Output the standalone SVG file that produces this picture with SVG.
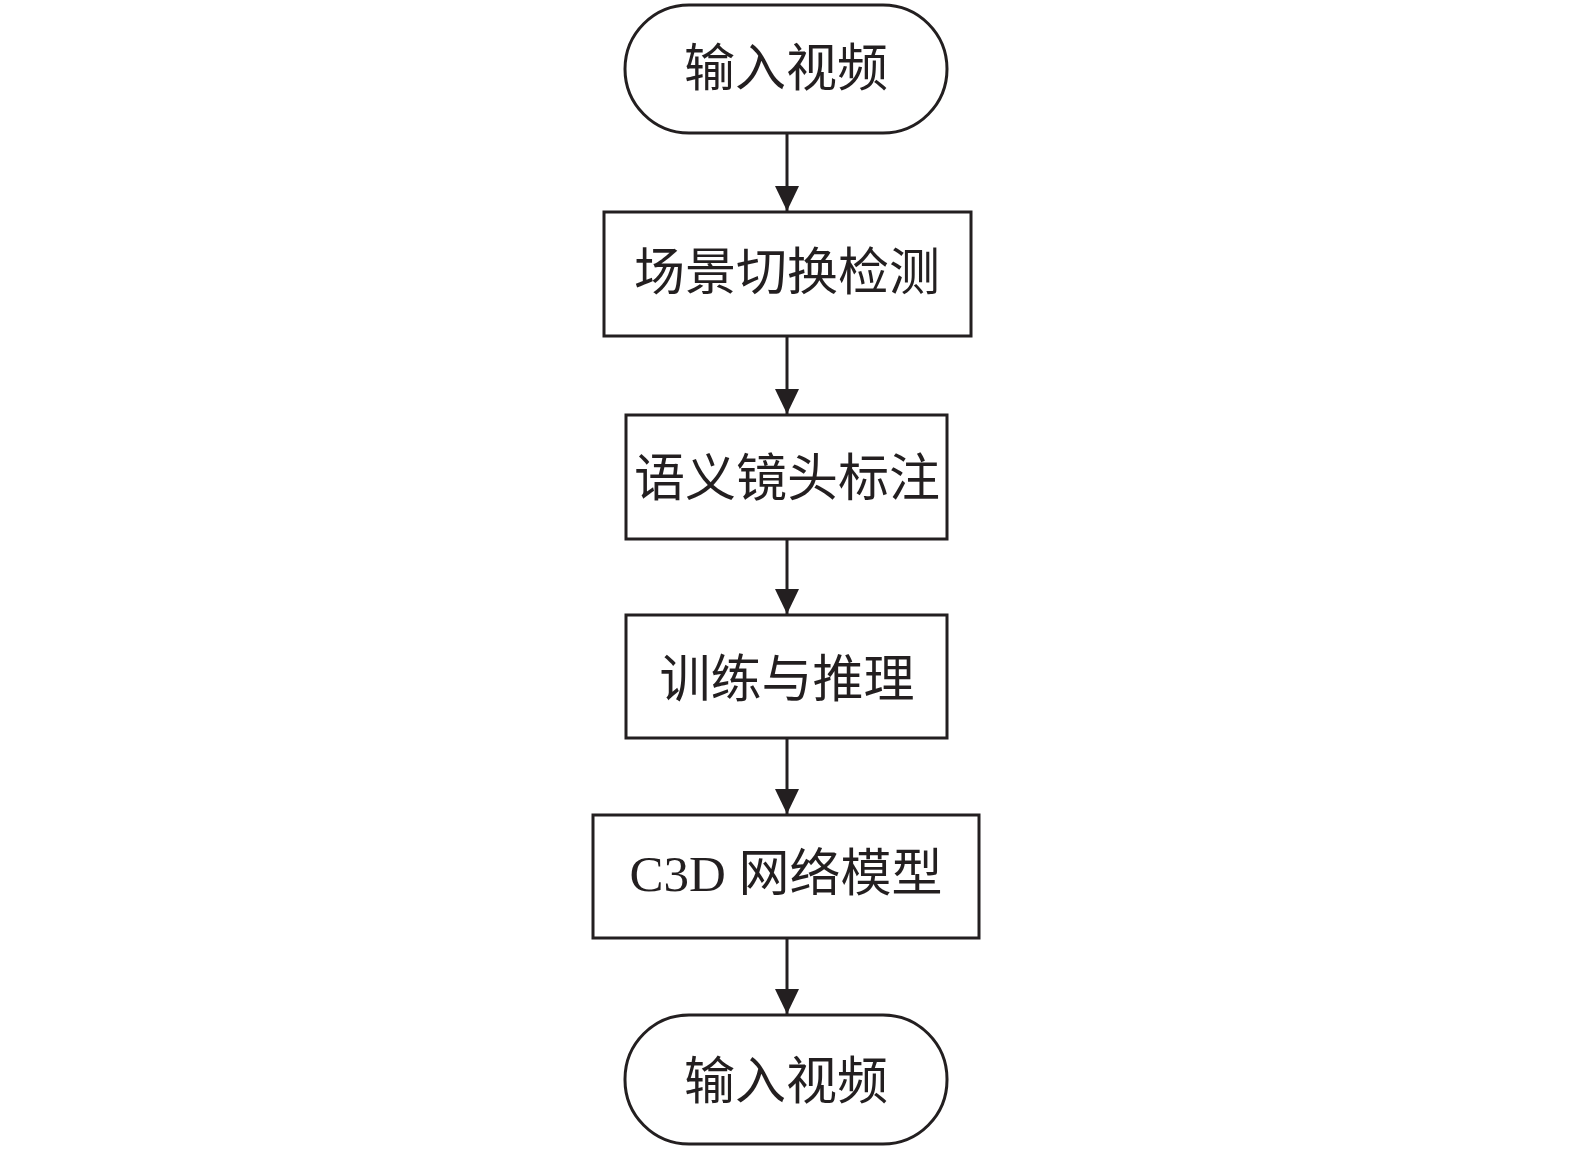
<svg xmlns="http://www.w3.org/2000/svg" width="1575" height="1150" viewBox="0 0 1575 1150">
<defs>
<style>
.shape{fill:#ffffff;stroke:#231f20;stroke-width:3}
.label{font-family:"Liberation Serif","Noto Sans CJK SC",serif;font-size:51px;fill:#231f20;text-anchor:middle}
.conn{stroke:#231f20;stroke-width:3;fill:none}
</style>
<marker id="arrow" markerUnits="userSpaceOnUse" markerWidth="26" markerHeight="26" viewBox="0 0 26 26" refX="25" refY="13" orient="auto">
<path d="M0,1 L25,13 L0,25 Z" fill="#231f20"/>
</marker>
</defs>
<rect width="1575" height="1150" fill="#ffffff"/>
<g id="connectors">
<line class="conn" x1="787" y1="134" x2="787" y2="211" marker-end="url(#arrow)"/>
<line class="conn" x1="787" y1="337" x2="787" y2="414" marker-end="url(#arrow)"/>
<line class="conn" x1="787" y1="540" x2="787" y2="614" marker-end="url(#arrow)"/>
<line class="conn" x1="787" y1="739" x2="787" y2="814" marker-end="url(#arrow)"/>
<line class="conn" x1="787" y1="939" x2="787" y2="1014" marker-end="url(#arrow)"/>
</g>
<g id="start">
<rect class="shape" x="625" y="5" width="322" height="128" rx="64" ry="64"/>
<text class="label" x="786" y="86">输入视频</text>
</g>
<g id="scene-detect">
<rect class="shape" x="604" y="212" width="367" height="124"/>
<text class="label" x="787" y="290">场景切换检测</text>
</g>
<g id="semantic-label">
<rect class="shape" x="626" y="415" width="321" height="124"/>
<text class="label" x="787" y="496">语义镜头标注</text>
</g>
<g id="train-infer">
<rect class="shape" x="626" y="615" width="321" height="123"/>
<text class="label" x="787" y="697">训练与推理</text>
</g>
<g id="c3d">
<rect class="shape" x="593" y="815" width="386" height="123"/>
<text class="label" x="786" y="891">C3D 网络模型</text>
</g>
<g id="end">
<rect class="shape" x="625" y="1015" width="322" height="129" rx="64" ry="64"/>
<text class="label" x="786" y="1099">输入视频</text>
</g>
</svg>
